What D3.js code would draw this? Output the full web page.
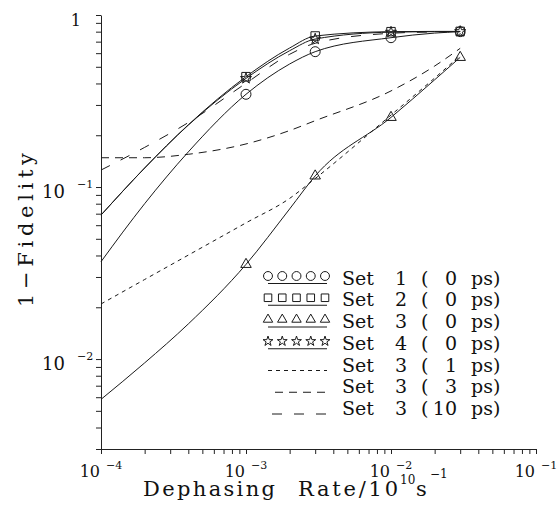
<!DOCTYPE html>
<meta charset="utf-8">
<head>
  <style>
    body { margin: 0; background: #fff; }
    text { font-family: "DejaVu Serif", serif; fill: #111; }
    .axis path, .axis line { stroke: #222; stroke-width: 1; }
    .curve { fill: none; stroke: #1a1a1a; stroke-width: 1; }
    .mark { fill: none; stroke: #1a1a1a; stroke-width: 1; }
  </style>
  <script src="https://cdn.jsdelivr.net/npm/d3@7"></script>
</head>
<body>
  <div id="chart"></div>
</body>
<script>
// dephasing rates (10^10 s^-1) where the curves are sampled
var rates = [1e-4, 2e-4, 4e-4, 1e-3, 2e-3, 3e-3, 1e-2, 2e-2, 3e-2];
// rates that carry a symbol
var markerRates = [1e-3, 3e-3, 1e-2, 3e-2];

// 1 - fidelity
var set1   = [0.0368, 0.080, 0.160, 0.346, 0.519, 0.612, 0.738, 0.785, 0.800];
var set2   = [0.0687, 0.129, 0.230, 0.438, 0.643, 0.755, 0.800, 0.803, 0.803];
var set3   = [0.00583, 0.0095, 0.0160, 0.0355, 0.0746, 0.116, 0.254, 0.42, 0.567];
var set4   = [0.0687, 0.129, 0.229, 0.428, 0.620, 0.725, 0.795, 0.800, 0.802];
var set3c1 = [0.0209, 0.029, 0.0402, 0.0619, 0.0859, 0.112, 0.262, 0.43, 0.58];
var set3c3 = [0.148, 0.148, 0.155, 0.178, 0.213, 0.243, 0.362, 0.505, 0.64];
var set3c10 = [0.1255, 0.170, 0.237, 0.401, 0.591, 0.685, 0.783, 0.797, 0.80];

var legendSets = ["1", "2", "3", "4", "3", "3", "3"];
var legendDelays = ["0", "0", "0", "0", "1", "3", "10"];

var xDecades = [-4, -3, -2, -1];
var yDecades = [-1, -2];

var series = [
  { vals: set1, sym: d3.symbolCircle, size: 78, dash: null },
  { vals: set2, sym: d3.symbolSquare, size: 72, dash: null },
  { vals: set3, sym: d3.symbolTriangle, size: 48, dash: null },
  { vals: set4, sym: d3.symbolStar, size: 38, dash: null },
  { vals: set3c1, sym: null, dash: "4,4" },
  { vals: set3c3, sym: null, dash: "8,6" },
  { vals: set3c10, sym: null, dash: "10,12" }
];

var svg = d3.select("#chart")
  .append("svg")
    .attr("width", 560)
    .attr("height", 506);

var x = d3.scaleLog().domain([1e-4, 1e-1]).range([101, 536]);
var y = d3.scaleLog().domain([3e-3, 1]).range([449, 15]);

function decadeTicks(lo, hi, startMult) {
  var t = [];
  for (var e = lo; e < hi; e++) {
    for (var m = (e == lo ? startMult : 1); m < 10; m++) t.push(m * Math.pow(10, e));
  }
  t.push(Math.pow(10, hi));
  return t;
}

svg.append("g")
    .attr("class", "axis")
    .attr("transform", "translate(0,449)")
    .call(d3.axisBottom(x).tickValues(decadeTicks(-4, -1, 1)).tickSize(5).tickSizeOuter(0).tickFormat(""));

svg.append("g")
    .attr("class", "axis")
    .attr("transform", "translate(101,0)")
    .call(d3.axisLeft(y).tickValues(decadeTicks(-3, 0, 3)).tickSize(5).tickSizeOuter(0).tickFormat(""));

/* tick labels: 10 with a raised exponent */
xDecades.forEach(function(e) {
  var px = x(Math.pow(10, e));
  svg.append("text").attr("x", px - 1).attr("y", 477)
    .attr("text-anchor", "end").style("font-size", "16px").text("10");
  svg.append("text").attr("x", px + 5).attr("y", 469)
    .style("font-size", "11px").text("\u2212" + (-e));
});

svg.append("text").attr("x", 81).attr("y", 26)
  .attr("text-anchor", "end").style("font-size", "16px").text("1");
yDecades.forEach(function(e) {
  var py = y(Math.pow(10, e));
  svg.append("text").attr("x", 65).attr("y", py + 11)
    .attr("text-anchor", "end").style("font-size", "18px").text("10");
  svg.append("text").attr("x", 77).attr("y", py + 1)
    .style("font-size", "11px").text("\u2212" + (-e));
});

/* axis titles */
svg.append("text").attr("x", 143).attr("y", 496)
  .attr("textLength", 132).attr("lengthAdjust", "spacing")
  .style("font-size", "21px").text("Dephasing");
svg.append("text").attr("x", 298).attr("y", 496)
  .attr("textLength", 100).attr("lengthAdjust", "spacing")
  .style("font-size", "21px").text("Rate/10");
svg.append("text").attr("x", 400).attr("y", 484)
  .style("font-size", "12px").text("10");
svg.append("text").attr("x", 416).attr("y", 496)
  .style("font-size", "21px").text("s");
svg.append("text").attr("x", 430).attr("y", 478)
  .style("font-size", "12px").text("\u22121");

svg.append("text")
  .attr("transform", "translate(33,230) rotate(-90)")
  .attr("text-anchor", "middle")
  .attr("textLength", 154).attr("lengthAdjust", "spacing")
  .style("font-size", "21px").text("1\u2212Fidelity");

/* curves */
var line = d3.line()
  .x(function(d) { return x(d[0]); })
  .y(function(d) { return y(d[1]); })
  .curve(d3.curveMonotoneX);

series.forEach(function(s) {
  var pts = rates.map(function(r, i) { return [r, s.vals[i]]; });
  svg.append("path")
    .attr("class", "curve")
    .attr("d", line(pts))
    .style("stroke-dasharray", s.dash);

  if (s.sym) {
    svg.selectAll(null)
      .data(pts.filter(function(p) { return markerRates.indexOf(p[0]) >= 0; }))
      .enter()
      .append("path")
        .attr("class", "mark")
        .attr("transform", function(p) { return "translate(" + x(p[0]) + "," + y(p[1]) + ")"; })
        .attr("d", d3.symbol().type(s.sym).size(s.size));
  }
});

/* legend */
legendSets.forEach(function(setName, i) {
  var base = 284.5 + 21.75 * i;
  var s = series[i];
  if (s.sym) {
    for (var k = 0; k < 5; k++) {
      svg.append("path")
        .attr("class", "mark")
        .attr("transform", "translate(" + (268 + 14.25 * k) + "," + (base - 8.5) + ")")
        .attr("d", d3.symbol().type(s.sym).size(s.size * 0.8));
    }
    svg.append("line").attr("class", "curve")
      .attr("x1", 268).attr("x2", 327).attr("y1", base - 1).attr("y2", base - 1);
  } else {
    var x0 = i == 4 ? 268 : (i == 5 ? 275 : 272);
    svg.append("line").attr("class", "curve")
      .attr("x1", x0).attr("x2", 327).attr("y1", base - 1).attr("y2", base - 1)
      .style("stroke-dasharray", s.dash);
  }
  svg.append("text").attr("x", 342).attr("y", base).style("font-size", "19px").text("Set");
  svg.append("text").attr("x", 395).attr("y", base).style("font-size", "19px").text(setName);
  svg.append("text").attr("x", 421).attr("y", base).style("font-size", "19px").text("(");
  svg.append("text").attr("x", 457).attr("y", base).attr("text-anchor", "end")
    .style("font-size", "19px").text(legendDelays[i]);
  svg.append("text").attr("x", 471).attr("y", base).style("font-size", "19px").text("ps)");
});
</script>
